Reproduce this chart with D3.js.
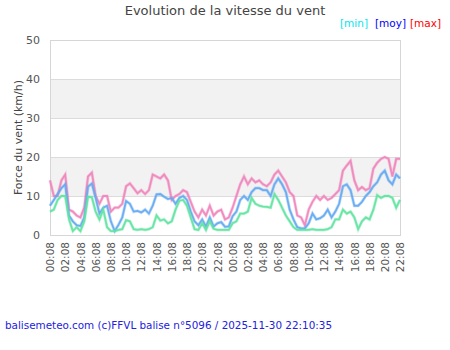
<!DOCTYPE html>
<html><head><meta charset="utf-8">
<script src="https://cdn.jsdelivr.net/npm/d3@7"></script>
<style>
body{margin:0;background:#fff;}
svg{display:block;font-family:"DejaVu Sans",sans-serif;}
</style></head>
<body><svg id="c" width="450" height="350"></svg>
<script>
const startTime = "2025-11-29T00:08:00";
const stepMinutes = 30;
const yTicks = [0, 10, 20, 30, 40, 50];
const seriesNames = ["min", "moy", "max"];
const maxValues = [14,10,10,14,15.5,6.5,6,5,4.5,7,15,16,10,8,10,10,6,7,7,8,
12.5,13.2,12,10.7,11.5,10.5,11.5,15.5,15,14.5,15.5,14,9,10,10.5,11.5,11,8.5,6,4.5,
6.5,5,7.5,5,6,6.5,4,4.5,7,10,13,15,13,14.5,13.5,14,13,12.5,13.5,15.5,
16.5,15,13.5,11,10,5,4.5,2.5,6.5,8.5,10,9,10,9,9.5,10.5,11.5,16.5,17.8,19,
14,11.5,12.3,11.5,12,17,18.5,19.5,20,19.5,15,19.5,19.5];
const moyValues = [7.5,9,10.5,12,13,5,3.5,2.5,2.3,4.5,12.4,13.2,9.5,5.5,7,7.5,3.5,1,2.6,4.5,
8.7,8,6,6.2,5.8,6.5,5.5,7.5,10.4,10.5,9.8,9.2,9.5,8,9.5,10,9,6,3.5,2.5,
4,2.2,4.5,2.2,3,3.3,2.1,2.2,4.8,6,9,10,9,11,12,12,11.5,11.5,10,13,
14.5,13,11,6.5,4,2,1.7,1.7,3,5.5,4,4.3,5,6.5,4.5,6,8,12.5,13,11.5,
7.5,7.5,8.5,10,11,12.5,13.5,15.5,16.5,14,13,15.5,14.5];
const minValues = [6,6.5,9,10,10,4,1,2,1,3.5,9.8,9.7,6,4,6.5,2,1,1,1.3,1.5,
3.8,3.5,1.5,1.3,1.5,1.3,1.5,2,5,3.7,4,3,3.5,6.5,8.8,9,7.5,4.5,1.5,1.3,
3,1.3,3.5,1.6,1.3,1.3,1.3,1.3,3,3.5,5.5,5.5,6,9.5,8,7.5,7.3,7.2,7,10.5,
9,7,5,3.5,2,1.3,1.3,1.3,1.3,1.5,1.3,1.3,1.3,1.5,2,4,4,6.5,5.5,6,
4.5,1.5,3.5,4.5,4,6.5,10.2,9.5,10,10,9.5,7,9];

const svg = d3.select("#c");
const W = 450, H = 350;
const m = {left: 50, right: 50, top: 40, bottom: 115};
const pw = W - m.left - m.right, ph = H - m.top - m.bottom;

const t0 = new Date(startTime);
const times = maxValues.map((_, i) => d3.timeMinute.offset(t0, i * stepMinutes));
const x = d3.scaleTime().domain([times[0], times[times.length - 1]]).range([m.left, m.left + pw]);
const y = d3.scaleLinear().domain([0, 50]).range([m.top + ph, m.top]);

// bands
const bands = [[10, 20], [30, 40]];
svg.selectAll("rect.band").data(bands).enter().append("rect")
  .attr("x", m.left).attr("width", pw)
  .attr("y", d => y(d[1])).attr("height", d => y(d[0]) - y(d[1]))
  .attr("fill", "#f2f2f2");

// grid lines
svg.selectAll("line.grid").data(yTicks).enter().append("line")
  .attr("x1", m.left).attr("x2", m.left + pw)
  .attr("y1", d => y(d) + 0.5).attr("y2", d => y(d) + 0.5)
  .attr("stroke", "#dcdcdc").attr("stroke-width", 1);
// plot border
svg.append("rect").attr("x", m.left + 0.5).attr("y", m.top + 0.5)
  .attr("width", pw).attr("height", ph)
  .attr("fill", "none").attr("stroke", "#d6d6d6");

// lines
const colors = {min: "#5fe3a0", moy: "#63a8f2", max: "#f084bb"};
const data = {min: minValues, moy: moyValues, max: maxValues};
const line = d3.line().x((d, i) => x(times[i])).y(d => y(d));
["max", "moy", "min"].forEach(k => {
  svg.append("path").datum(data[k]).attr("d", line)
    .attr("fill", "none").attr("stroke", colors[k])
    .attr("stroke-width", 3.2).attr("stroke-opacity", 0.35).attr("stroke-linejoin", "miter");
  svg.append("path").datum(data[k]).attr("d", line)
    .attr("fill", "none").attr("stroke", colors[k])
    .attr("stroke-width", 1.8).attr("stroke-opacity", 0.9).attr("stroke-linejoin", "miter");
});

// y axis labels
const yAxis = d3.axisLeft(y).tickValues(yTicks).tickSize(0).tickPadding(10);
const gy = svg.append("g").attr("transform", `translate(${m.left},0)`).call(yAxis);
gy.select(".domain").remove();
gy.selectAll("text").attr("fill", "#555").style("font-size", "11px").style("font-family", "DejaVu Sans");

// x axis labels
const xTickTimes = d3.range(0, times.length, 4).map(i => times[i]);
const xAxis = d3.axisBottom(x).tickValues(xTickTimes).tickFormat(d3.timeFormat("%H:%M")).tickSize(0);
const gx = svg.append("g").attr("transform", `translate(0,${m.top + ph})`).call(xAxis);
gx.select(".domain").remove();
gx.selectAll("text")
  .attr("transform", "rotate(-90)")
  .attr("text-anchor", "end").attr("dy", "0.35em").attr("x", -7).attr("y", 0)
  .attr("fill", "#555").style("font-size", "10.5px").style("font-family", "DejaVu Sans");

// y title
svg.append("text").attr("transform", `translate(22,${m.top + ph / 2}) rotate(-90)`)
  .attr("text-anchor", "middle").attr("fill", "#444").style("font-size", "11px")
  .text("Force du vent (km/h)");

// title
svg.append("text").attr("x", 225).attr("y", 15).attr("text-anchor", "middle")
  .attr("fill", "#444").style("font-size", "13px").text("Evolution de la vitesse du vent");

// legend
const legendColors = ["#00e5ee", "#0000ff", "#ff0000"];
const legendX = [340, 375, 410];
svg.selectAll("text.leg").data(seriesNames).enter().append("text")
  .attr("class", "leg").attr("x", (d, i) => legendX[i]).attr("y", 27)
  .attr("fill", (d, i) => legendColors[i]).style("font-size", "10.5px")
  .text(d => `[${d}]`);

// footer
svg.append("text").attr("x", 5).attr("y", 329).attr("fill", "#2222dd")
  .style("font-size", "10.4px").text("balisemeteo.com (c)FFVL balise n°5096 / 2025-11-30 22:10:35");
</script></body></html>
